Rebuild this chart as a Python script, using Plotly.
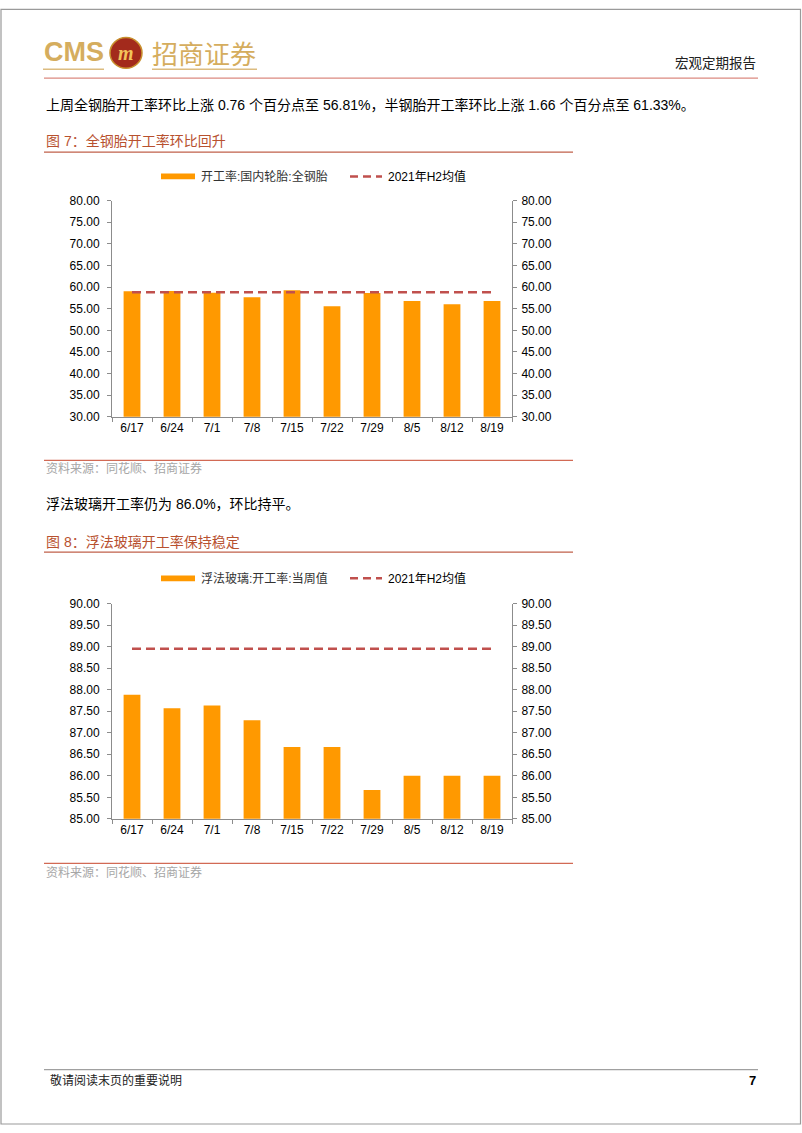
import plotly.graph_objects as go

W, H = 802, 1133

dates = ["6/17", "6/24", "7/1", "7/8", "7/15", "7/22", "7/29", "8/5", "8/12", "8/19"]
steel_tire = [59.03, 59.10, 58.70, 57.66, 59.25, 55.60, 58.65, 56.80, 56.05, 56.81]
steel_avg = [58.80, 58.80, 58.80, 58.80, 58.80, 58.80, 58.80, 58.80, 58.80, 58.80]
glass = [87.88, 87.57, 87.63, 87.29, 86.67, 86.67, 85.67, 86.00, 86.00, 86.00]
glass_avg = [88.95, 88.95, 88.95, 88.95, 88.95, 88.95, 88.95, 88.95, 88.95, 88.95]

ticks1 = [30, 35, 40, 45, 50, 55, 60, 65, 70, 75, 80]
ticks2 = [85.0, 85.5, 86.0, 86.5, 87.0, 87.5, 88.0, 88.5, 89.0, 89.5, 90.0]

ORANGE = "#FF9900"
DASH_RED = "#C0504D"
TITLE_RED = "#B8512F"
AXIS_GRAY = "#8C8C8C"
GOLD = "#D5AD5E"
FONT_LAT = "Liberation Sans, Arial, Noto Sans CJK SC"
FONT_CJK = "Liberation Sans, Noto Sans CJK SC"


def px(x):
    return x / W


def py(y):
    return 1 - y / H


fig = go.Figure()

fig.add_trace(go.Bar(x=dates, y=steel_tire, marker=dict(color=ORANGE, line=dict(width=0)),
                     width=0.42, xaxis="x", yaxis="y", showlegend=False))
fig.add_trace(go.Scatter(x=dates, y=steel_avg, mode="lines",
                         line=dict(color=DASH_RED, width=2.5, dash="9px,5px"),
                         xaxis="x", yaxis="y2", showlegend=False))
fig.add_trace(go.Bar(x=dates, y=glass, marker=dict(color=ORANGE, line=dict(width=0)),
                     width=0.42, xaxis="x2", yaxis="y3", showlegend=False))
fig.add_trace(go.Scatter(x=dates, y=glass_avg, mode="lines",
                         line=dict(color=DASH_RED, width=2.5, dash="9px,5px"),
                         xaxis="x2", yaxis="y4", showlegend=False))

xdom = [px(112), px(512)]
ydom1 = [py(415), py(196)]
ydom2 = [py(822), py(604)]

common_axis = dict(showline=True, linecolor=AXIS_GRAY, linewidth=1, ticks="outside",
                   ticklen=4, tickcolor=AXIS_GRAY, tickwidth=1, showgrid=False,
                   zeroline=False, tickfont=dict(family=FONT_LAT, size=12, color="#000000"))

xa = dict(common_axis, type="category", tickson="boundaries", domain=xdom)
ya = dict(common_axis, tickmode="array", tickformat=".2f")

fig.update_layout(
    width=W, height=H, margin=dict(l=0, r=0, t=0, b=0),
    paper_bgcolor="white", plot_bgcolor="white", bargap=0.58,
    xaxis=dict(xa, anchor="y"),
    yaxis=dict(ya, domain=ydom1, anchor="x", range=[30, 80], tickvals=ticks1, ticklabelstandoff=5),
    yaxis2=dict(ya, overlaying="y", side="right", anchor="x", range=[30, 80], tickvals=ticks1,
                ticklabelstandoff=2),
    xaxis2=dict(xa, anchor="y3"),
    yaxis3=dict(ya, domain=ydom2, anchor="x2", range=[85, 90], tickvals=ticks2, ticklabelstandoff=5),
    yaxis4=dict(ya, overlaying="y3", side="right", anchor="x2", range=[85, 90], tickvals=ticks2,
                ticklabelstandoff=2),
)

shapes = []
annotations = []


def hline(x0, x1, y, color, width=1.0, dash="solid"):
    shapes.append(dict(type="line", xref="paper", yref="paper", x0=px(x0), x1=px(x1),
                       y0=py(y), y1=py(y), line=dict(color=color, width=width, dash=dash)))


def text(x, y, s, size, color="#000000", family=FONT_CJK, xanchor="left", bold=False):
    if bold:
        s = "<b>" + s + "</b>"
    annotations.append(dict(xref="paper", yref="paper", x=px(x), y=py(y), text=s,
                            showarrow=False, xanchor=xanchor, yanchor="middle",
                            font=dict(size=size, color=color, family=family)))


# page border
shapes.append(dict(type="rect", xref="paper", yref="paper", x0=px(1), x1=px(800.5),
                   y0=py(1131), y1=py(2.5), line=dict(color="#9A9A9A", width=1.2)))

# header / logo
text(42, 46, "CMS", 27, GOLD, "Liberation Sans, Arial", bold=True)
shapes.append(dict(type="circle", xref="paper", yref="paper", x0=px(110), x1=px(142),
                   y0=py(62), y1=py(31), fillcolor="#A32A1C", line=dict(color="#C8902E", width=1.5)))
text(126, 46.5, "<i>m</i>", 20, "#F2C45A", "Liberation Serif", xanchor="center", bold=True)
text(150, 46, "招商证券", 26, GOLD, "Noto Sans CJK SC")
hline(43, 104, 63, "#DCBC80", 1.5)
hline(152, 257, 63, "#DCBC80", 1.5)
text(758, 56, "宏观定期报告", 13.5, "#222222", "Noto Sans CJK SC", xanchor="right")
hline(44, 758, 72, "#DB8A80", 1.3)

# paragraph 1
text(44, 99, "上周全钢胎开工率环比上涨 0.76 个百分点至 56.81%，半钢胎开工率环比上涨 1.66 个百分点至 61.33%。", 14)

# figure 7 title
text(44, 136, "图 7：全钢胎开工率环比回升", 14, TITLE_RED)
hline(44, 573, 147, "#C0604A", 1.3)

# legend 1
shapes.append(dict(type="rect", xref="paper", yref="paper", x0=px(161), x1=px(195),
                   y0=py(174.5), y1=py(168.5), fillcolor=ORANGE, line=dict(width=0)))
text(199, 171.5, "开工率:国内轮胎:全钢胎", 12, "#333333")
hline(350, 382, 171.5, DASH_RED, 2.5, "8px,5px")
text(386, 171.5, "2021年H2均值", 12, "#000000")

# source 1
hline(44, 573, 459, "#D26A55", 1.3)
text(44, 467.5, "资料来源：同花顺、招商证券", 12, "#A6A6A6")

# paragraph 2
text(44, 503, "浮法玻璃开工率仍为 86.0%，环比持平。", 14)

# figure 8 title
text(44, 542, "图 8：浮法玻璃开工率保持稳定", 14, TITLE_RED)
hline(44, 573, 552, "#C0604A", 1.3)

# legend 2
shapes.append(dict(type="rect", xref="paper", yref="paper", x0=px(161), x1=px(195),
                   y0=py(581.5), y1=py(575.5), fillcolor=ORANGE, line=dict(width=0)))
text(199, 578.5, "浮法玻璃:开工率:当周值", 12, "#333333")
hline(350, 382, 578.5, DASH_RED, 2.5, "8px,5px")
text(386, 578.5, "2021年H2均值", 12, "#000000")

# source 2
hline(44, 573, 867, "#D26A55", 1.3)
text(44, 876, "资料来源：同花顺、招商证券", 12, "#A6A6A6")

# footer
hline(44, 758, 1076, "#A0A0A0", 1.2)
text(48, 1087, "敬请阅读末页的重要说明", 12, "#222222")
text(758, 1087, "7", 13, "#000000", "Liberation Sans, Arial", xanchor="right", bold=True)

fig.update_layout(shapes=shapes, annotations=annotations)

fig.write_html("out.html")
